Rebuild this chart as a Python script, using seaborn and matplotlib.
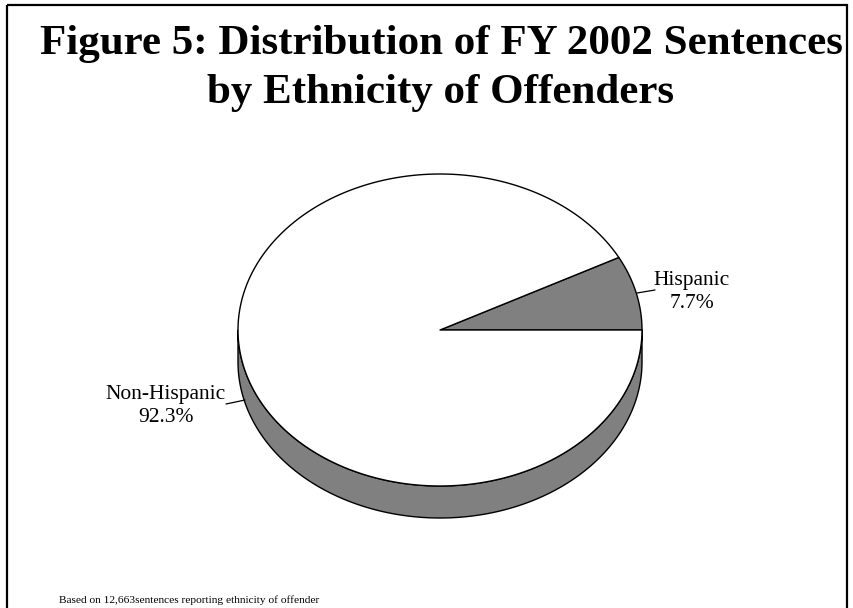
import numpy as np
import matplotlib
matplotlib.use("Agg")
import matplotlib.pyplot as plt
from matplotlib.patches import Polygon, Rectangle
import seaborn as sns

# Share of FY 2002 sentences by offender ethnicity (percent)
categories = ["Hispanic", "Non-Hispanic"]
shares = [7.7, 92.3]
face_colors = ["#808080", "#ffffff"]
side_color = "#808080"
title_lines = ["Figure 5: Distribution of FY 2002 Sentences", "by Ethnicity of Offenders"]
footnote = "Based on 12,663sentences reporting ethnicity of offender"

sns.set_theme(style="white")
plt.rcParams["font.family"] = ["Liberation Serif", "DejaVu Serif"]

W, H = 854, 608
fig = plt.figure(figsize=(W / 100, H / 100), dpi=100)
ax = fig.add_axes([0, 0, 1, 1])
ax.set_xlim(0, W)
ax.set_ylim(H, 0)
ax.axis("off")

# outer frame
ax.add_patch(Rectangle((7, 5), 840, 640, fill=False, lw=1.6, ec="black"))

# pie geometry (pixel units)
cx, cy, rx, ry, depth = 440, 330, 202, 156, 32


def arc(a0, a1, dy=0.0, n=200):
    t = np.radians(np.linspace(a0, a1, n))
    return np.column_stack([cx + rx * np.cos(t), cy - ry * np.sin(t) + dy])


# side wall of the lower half
top = arc(180, 360)
bottom = arc(360, 180, dy=depth)
ax.add_patch(Polygon(np.vstack([top, bottom]), closed=True, fc=side_color,
                     ec="black", lw=1.0, joinstyle="round"))

# top faces, counter-clockwise from 3 o'clock
start = 0.0
for cat, val, col in zip(categories, shares, face_colors):
    sweep = val / sum(shares) * 360.0
    pts = np.vstack([[cx, cy], arc(start, start + sweep)])
    ax.add_patch(Polygon(pts, closed=True, fc=col, ec="black", lw=1.0,
                         joinstyle="round"))
    start += sweep

# labels with leader lines
label_pos = {"Hispanic": (692, 292), "Non-Hispanic": (166, 406)}
leaders = {"Hispanic": [(637, 293), (655, 290)],
           "Non-Hispanic": [(245, 400), (226, 404)]}
for cat, val in zip(categories, shares):
    (x0, y0), (x1, y1) = leaders[cat]
    ax.plot([x0, x1], [y0, y1], color="black", lw=0.9)
    lx, ly = label_pos[cat]
    ax.text(lx, ly, f"{cat}\n{val}%", ha="center", va="center",
            fontsize=15.5, linespacing=1.25, color="black")

# title
ax.text(441, 44, title_lines[0], ha="center", va="center", fontsize=31,
        fontweight="bold", color="black")
ax.text(441, 93, title_lines[1], ha="center", va="center", fontsize=31,
        fontweight="bold", color="black")

# footnote
ax.text(59, 603, footnote, ha="left", va="baseline", fontsize=8.2,
        color="black")

fig.savefig("out.png", dpi=100)
